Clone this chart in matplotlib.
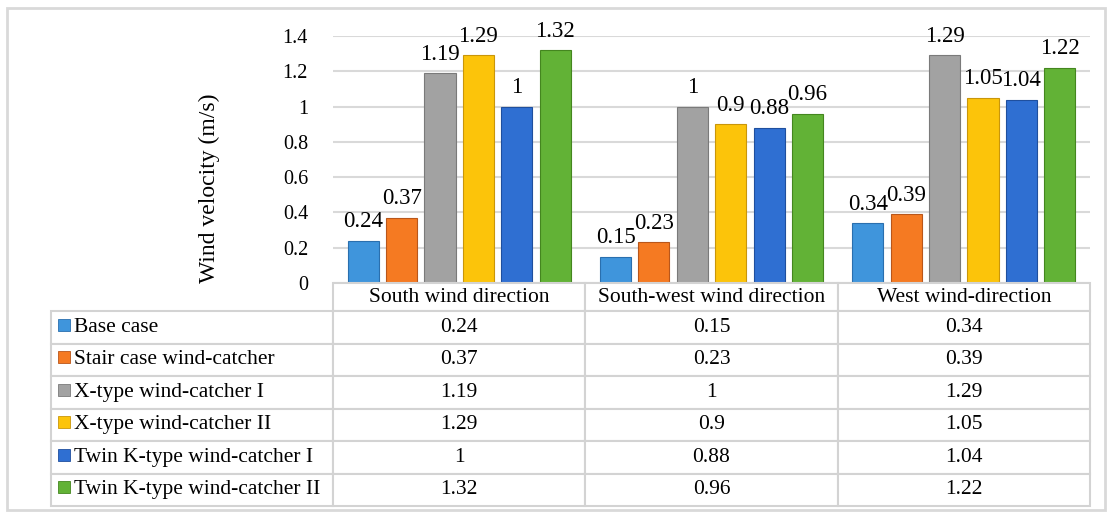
import numpy as np
import matplotlib.pyplot as plt
from matplotlib.patches import Rectangle

plt.rcParams['font.family'] = ['Liberation Serif', 'DejaVu Serif']

# data
directions = ["South wind direction", "South-west wind direction", "West wind-direction"]
cases = ["Base case", "Stair case wind-catcher", "X-type wind-catcher I",
         "X-type wind-catcher II", "Twin K-type wind-catcher I", "Twin K-type wind-catcher II"]
base_case = [0.24, 0.15, 0.34]
stair_case = [0.37, 0.23, 0.39]
x_type_1 = [1.19, 1.0, 1.29]
x_type_2 = [1.29, 0.9, 1.05]
twin_k_1 = [1.0, 0.88, 1.04]
twin_k_2 = [1.32, 0.96, 1.22]
series = [base_case, stair_case, x_type_1, x_type_2, twin_k_1, twin_k_2]
yticks = [0, 0.2, 0.4, 0.6, 0.8, 1.0, 1.2, 1.4]

colours = ["#3f95dc", "#f57a22", "#a2a2a2", "#fcc40a", "#2f6fd2", "#62b236"]
edges = ["#2a6fae", "#b9561a", "#7a7a7a", "#c9960a", "#1f4f9e", "#44861f"]

W, H = 1108, 512
fig = plt.figure(figsize=(W / 100, H / 100), dpi=100)

# outer chart border
fig.patches.append(Rectangle((7 / W, 1 - 510 / H), 1098 / W, 502 / H, transform=fig.transFigure,
                             fill=False, edgecolor="#d9d9d9", linewidth=2))

# bar chart
ax = fig.add_axes([333 / W, 1 - 283 / H, (1090 - 333) / W, (283 - 36) / H])
x = np.arange(len(directions))
step = 0.152
width = 0.123
for i, vals in enumerate(series):
    offs = (i - (len(series) - 1) / 2) * step
    bars = ax.bar(x + offs, vals, width, color=colours[i], edgecolor=edges[i], linewidth=0.8, zorder=3)
    ax.bar_label(bars, labels=[f"{v:g}" for v in vals], padding=6, fontsize=16.5, zorder=4)

ax.set_xlim(-0.5, 2.5)
ax.set_ylim(0, 1.4)
ax.set_yticks(yticks)
ax.set_yticklabels([f"{t:g}" for t in yticks], fontsize=14.5)
ax.set_xticks([])
ax.tick_params(axis="y", length=0, pad=18)
ax.yaxis.grid(True, color="#d9d9d9", linewidth=1.5, zorder=0)
for s in ax.spines.values():
    s.set_visible(False)
ax.patch.set_alpha(0)

fig.text(209 / W, 1 - 188 / H, "Wind velocity (m/s)", rotation=90, ha="center", va="center", fontsize=17)

# data table below the chart
tax = fig.add_axes([51 / W, 1 - 506 / H, (1090 - 51) / W, (506 - 283) / H])
tax.axis("off")
cell_text = [[""] + directions]
for name, vals in zip(cases, series):
    cell_text.append([name] + [f"{v:g}" for v in vals])
col_w = [282, 252.3, 252.3, 252.3]
col_w = [c / sum(col_w) for c in col_w]
tab = tax.table(cellText=cell_text, colWidths=col_w, cellLoc="center", bbox=[0, 0, 1, 1])
tab.auto_set_font_size(False)
tab.set_fontsize(15.5)
head_h, row_h = 28, 32.5
total_h = head_h + row_h * len(cases)
for (r, c), cell in tab.get_celld().items():
    cell.set_edgecolor("#d3d3d3")
    cell.set_linewidth(1.5)
    cell.set_height((head_h if r == 0 else row_h) / total_h)
    if c == 0:
        cell.get_text().set_horizontalalignment("left")
        cell.PAD = 0.082
tab[0, 0].visible_edges = "open"

# legend keys inside the row label cells
for i in range(len(cases)):
    yc = 1 - (head_h + row_h * (i + 0.5) - 2.5) / total_h
    tax.plot(13 / (1090 - 51), yc, marker="s", markersize=8.6, color=colours[i],
             markeredgecolor=edges[i], markeredgewidth=0.6, transform=tax.transAxes, clip_on=False)

fig.savefig("out.png", dpi=100)
